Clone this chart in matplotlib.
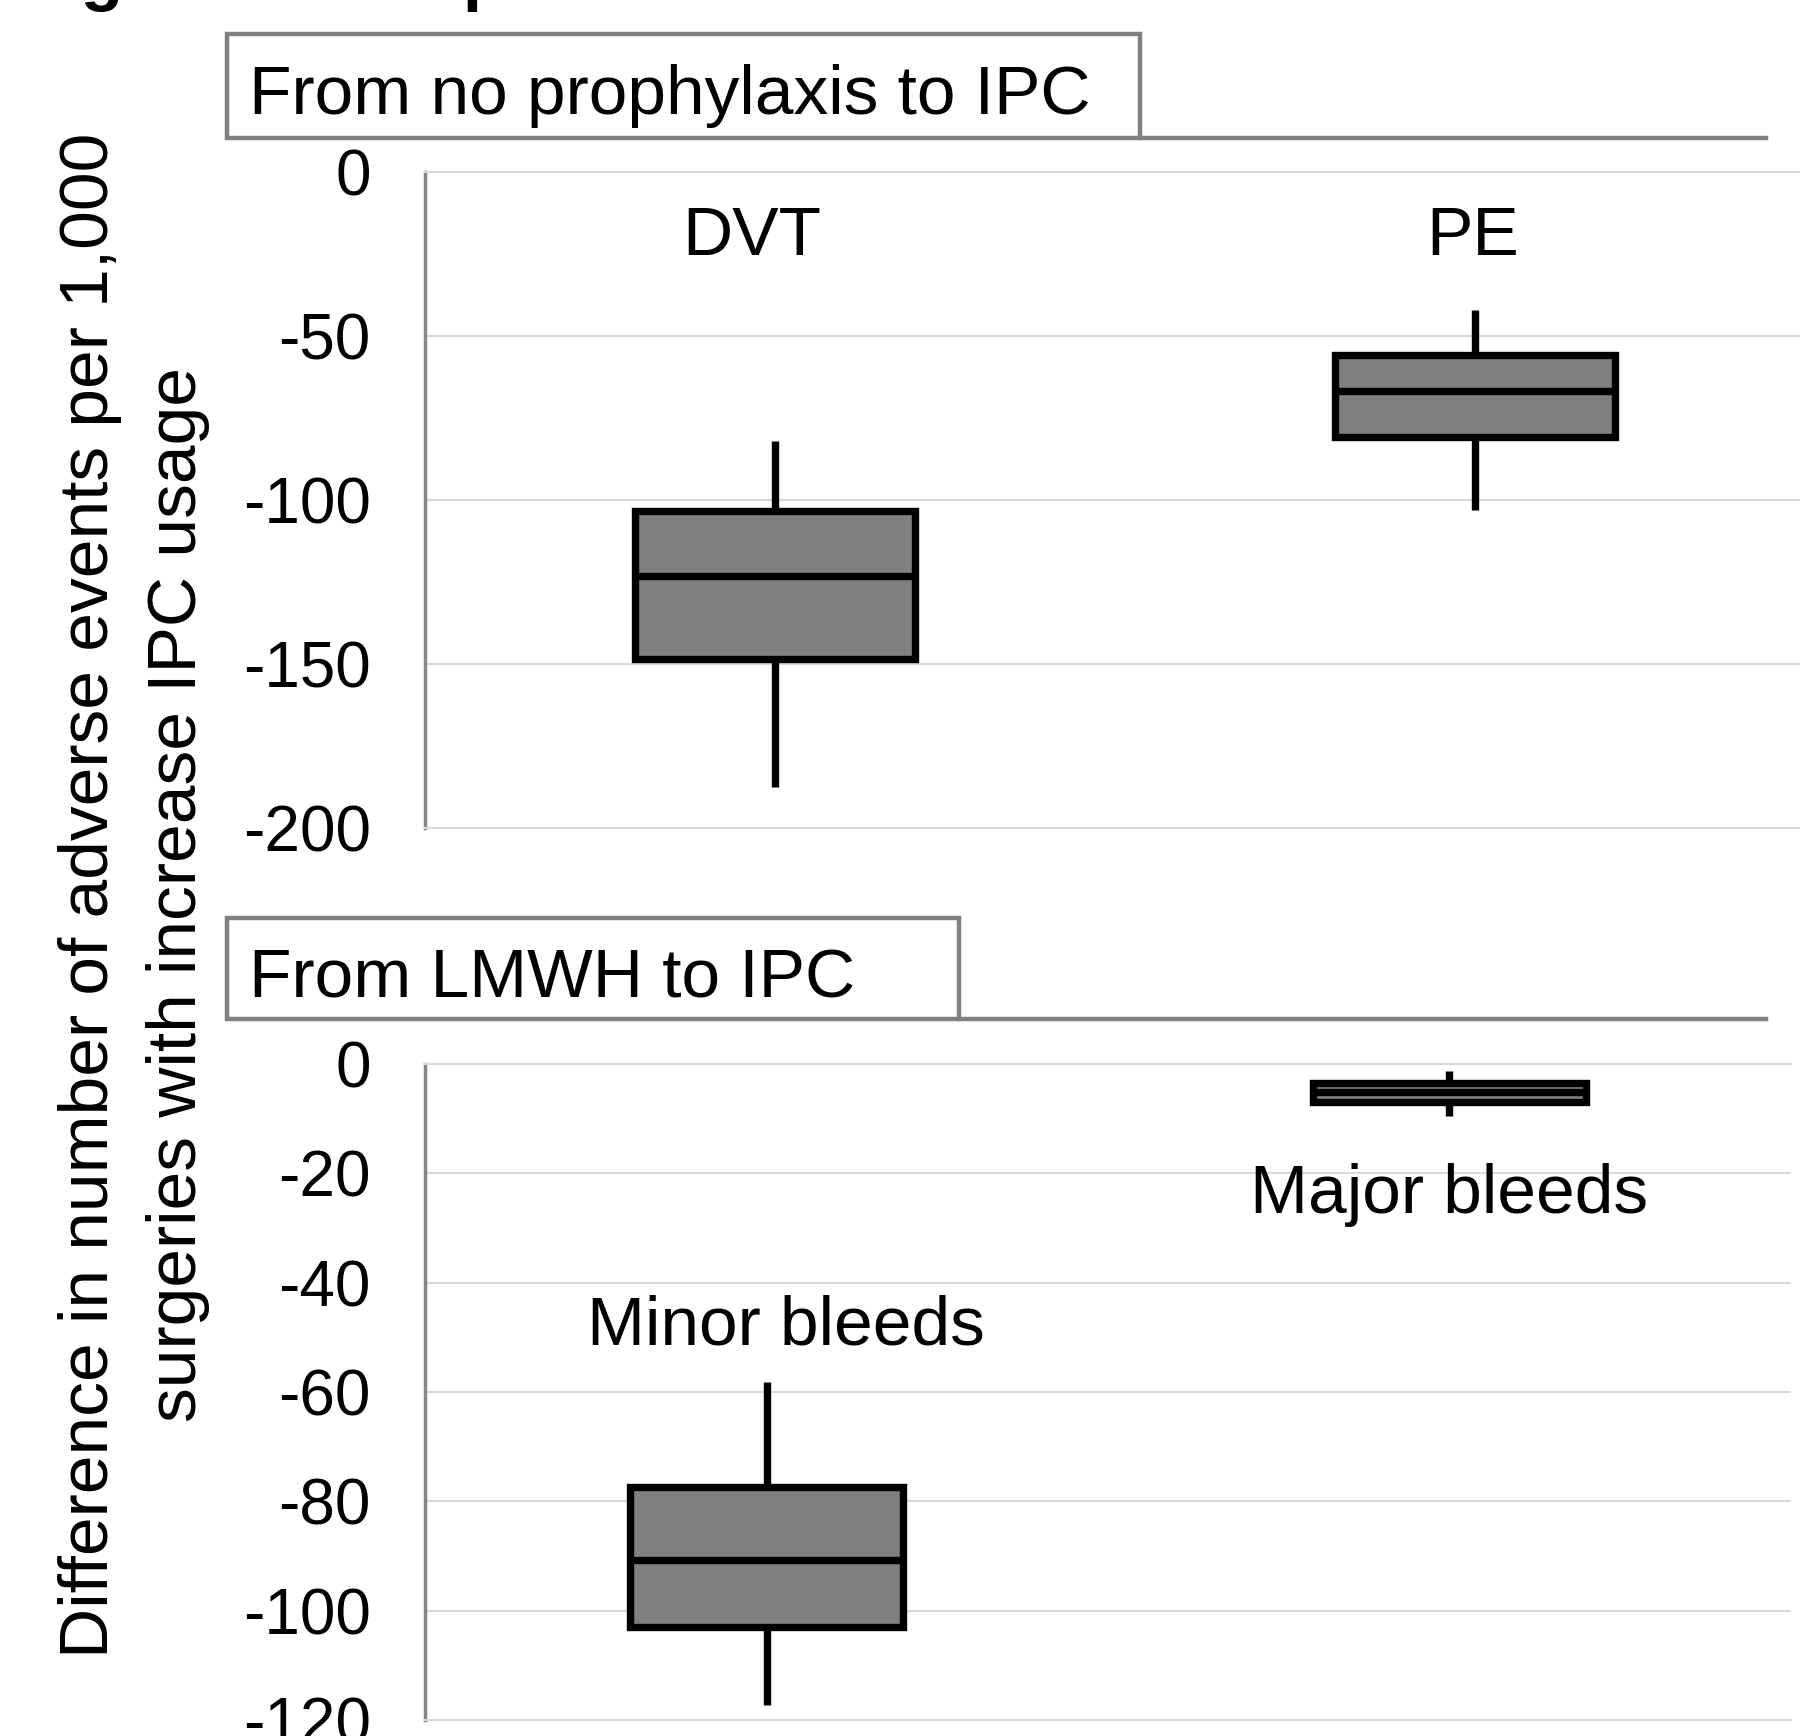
import matplotlib
matplotlib.use("Agg")
import matplotlib.pyplot as plt
from matplotlib.patches import Rectangle
from matplotlib.lines import Line2D

plt.rcParams['font.family'] = ['Liberation Sans', 'DejaVu Sans']
plt.rcParams['axes.unicode_minus'] = False

# ---- data ----
top_title = "From no prophylaxis to IPC"
top_categories = ["DVT", "PE"]
top_whislo = [-187.6, -103.2]
top_q1 = [-148.6, -80.9]
top_med = [-123.3, -66.8]
top_q3 = [-103.4, -55.9]
top_whishi = [-81.9, -42.0]
top_ticks = [0, -50, -100, -150, -200]

bot_title = "From LMWH to IPC"
bot_categories = ["Minor bleeds", "Major bleeds"]
bot_whislo = [-117.3, -9.5]
bot_q1 = [-102.9, -6.9]
bot_med = [-90.8, -5.2]
bot_q3 = [-77.3, -3.5]
bot_whishi = [-58.2, -1.3]
bot_ticks = [0, -20, -40, -60, -80, -100, -120]

ylabel_lines = ["Difference in number of adverse events per 1,000",
                "surgeries with increase IPC usage"]
fig_title = "Figure 3 Comparison"

W, H = 1800, 1736
fig = plt.figure(figsize=(W / 100, H / 100), dpi=100)

def fx(x):
    return x / W

def fy(y):
    return 1 - y / H

BOX_FC = '#808080'
LW = 5.3
GRID = '#d9d9d9'
SPINE = '#868686'
TXT = 50

def make_panel(rect, cats, wlo, q1, med, q3, whi, ticks, label_x, label_y):
    ax = fig.add_axes(rect)
    stats = []
    for c, a, b, m, d, e in zip(cats, wlo, q1, med, q3, whi):
        stats.append(dict(label=c, whislo=a, q1=b, med=m, q3=d, whishi=e, fliers=[]))
    pos = [0.5 + i for i in range(len(cats))]
    ax.bxp(stats, positions=pos, widths=0.4, patch_artist=True, showcaps=False,
           showfliers=False,
           boxprops=dict(facecolor=BOX_FC, edgecolor='black', linewidth=LW),
           whiskerprops=dict(color='black', linewidth=LW, solid_capstyle='butt'),
           medianprops=dict(color='black', linewidth=LW, solid_capstyle='butt'))
    ax.set_xlim(0, len(cats))
    ax.set_ylim(min(ticks), max(ticks))
    ax.set_yticks(ticks)
    ax.set_yticklabels([str(t) for t in ticks])
    ax.set_xticks([])
    ax.tick_params(axis='y', length=0, pad=39, labelsize=46)
    ax.yaxis.grid(True, color=GRID, linewidth=1.5)
    ax.set_axisbelow(True)
    ax.spines['right'].set_visible(False)
    ax.spines['top'].set_color(GRID)
    ax.spines['top'].set_linewidth(1.5)
    ax.spines['bottom'].set_color(GRID)
    ax.spines['bottom'].set_linewidth(1.5)
    ax.spines['left'].set_color(SPINE)
    ax.spines['left'].set_linewidth(2.5)
    for c, lx, ly in zip(cats, label_x, label_y):
        ax.text(lx, ly, c, ha='center', va='baseline', fontsize=TXT)
    return ax

# top panel (extends a bit past the right edge, as in the original crop)
ax1 = make_panel([fx(425), fy(828), (1825 - 425) / W, (828 - 172) / H],
                 top_categories, top_whislo, top_q1, top_med, top_q3, top_whishi,
                 top_ticks, [0.467, 1.496], [-25.2, -25.2])
ax2 = make_panel([fx(425), fy(1720), (1791 - 425) / W, (1720 - 1064) / H],
                 bot_categories, bot_whislo, bot_q1, bot_med, bot_q3, bot_whishi,
                 bot_ticks, [0.529, 1.5], [-51.3, -27.2])

# panel headers
HDR = '#808080'
def header(x0, y0, x1, y1, xend, text, baseline):
    fig.patches.append(Rectangle((fx(x0), fy(y1)), (x1 - x0) / W, (y1 - y0) / H,
                                 transform=fig.transFigure, facecolor='white',
                                 edgecolor=HDR, linewidth=3.2))
    fig.lines.append(Line2D([fx(x1), fx(xend)], [fy(y1), fy(y1)],
                            transform=fig.transFigure, color=HDR, linewidth=3.2))
    fig.text(fx(249), fy(baseline), text, ha='left', va='baseline', fontsize=TXT)

header(227, 34, 1140, 138, 1766, top_title, 114)
header(227, 918, 959, 1019, 1766, bot_title, 997)

# y label (two centred lines)
fig.text(fx(90), 0.4845, ylabel_lines[0], rotation=90, ha='center', va='center', fontsize=TXT)
fig.text(fx(178), 0.4845, ylabel_lines[1], rotation=90, ha='center', va='center', fontsize=TXT)

# cropped figure title (only descenders visible)
fig.text(fx(19), 1 + 1.5 / H, fig_title, ha='left', va='baseline', fontsize=TXT,
         fontweight='bold')

fig.savefig('out.png', dpi=100)
